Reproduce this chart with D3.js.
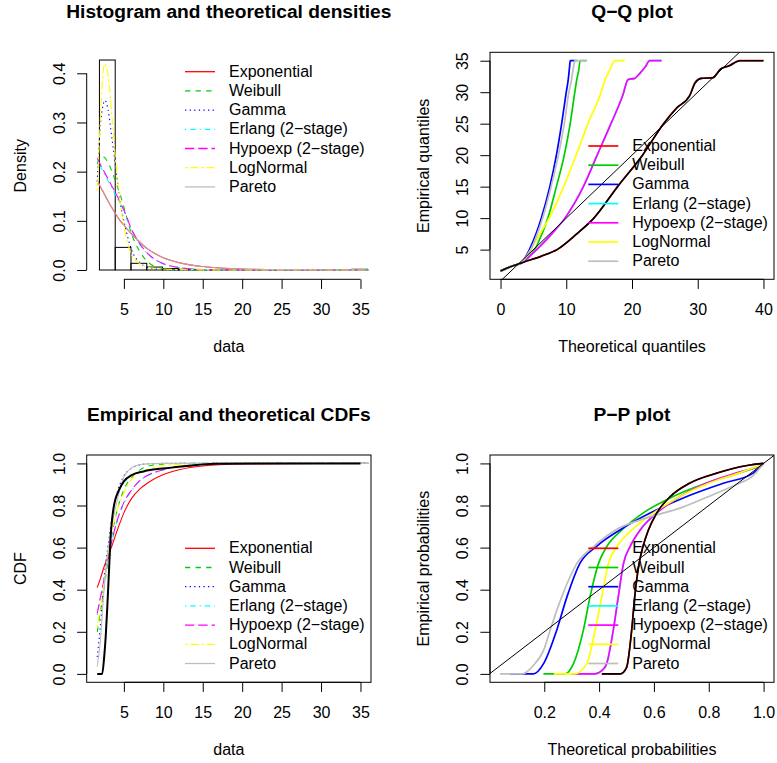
<!DOCTYPE html>
<html>
<head>
<meta charset="utf-8">
<script src="https://cdn.jsdelivr.net/npm/d3@7"></script>
<style>
  body { margin: 0; background: #fff; }
  text { font-family: "Liberation Sans", Arial, Helvetica, sans-serif; }
</style>
</head>
<body>
<div id="chart"></div>
<script>
// ---- legend entries (same for all four panels)
var distNames = ["Exponential", "Weibull", "Gamma", "Erlang (2\u2212stage)", "Hypoexp (2\u2212stage)", "LogNormal", "Pareto"];
var distColors = ["#FF0000", "#00CD00", "#0000FF", "#00FFFF", "#FF00FF", "#FFFF00", "#BEBEBE"];
var distDash = [null, "5.3,5.3", "1.3,3.3", "1.3,4,5.3,4", "9.3,4", "2.7,2.7,8,2.7", null];

// ---- histogram
var histBreaks = [-0.1, 1.9, 3.9, 5.9, 7.9, 9.9, 11.9, 13.9, 15.9, 17.9, 19.9, 21.9, 23.9, 25.9, 27.9, 29.9, 31.9, 33.9, 35.9];
var histDensity = [0, 0.427, 0.046, 0.0136, 0.006, 0.003, 0.0015, 0.001, 0.0005, 0.0003, 0.0003, 0.0002, 0.0002, 0.0002, 0.0003, 0.0008, 0.0005, 0.0015];

// ---- theoretical densities, read at densX
var densX      = [1.62, 2.0, 2.3, 2.6, 3.0, 3.5, 4.0, 4.5, 5.0, 6.0, 7.0, 8.0, 9.0, 10, 12, 15, 20, 25, 36];
var densExp    = [0.183, 0.170, 0.161, 0.152, 0.140, 0.126, 0.113, 0.101, 0.091, 0.073, 0.057, 0.043, 0.033, 0.025, 0.015, 0.007, 0.002, 0.0008, 0.0001];
var densWeib   = [0.215, 0.228, 0.230, 0.228, 0.218, 0.200, 0.178, 0.155, 0.128, 0.072, 0.038, 0.017, 0.007, 0.003, 0.0005, 0, 0, 0, 0];
var densGamma  = [0.180, 0.290, 0.330, 0.345, 0.325, 0.265, 0.205, 0.140, 0.100, 0.040, 0.015, 0.006, 0.002, 0.001, 0, 0, 0, 0, 0];
var densErlang = [0.222, 0.211, 0.202, 0.193, 0.181, 0.166, 0.151, 0.136, 0.119, 0.080, 0.052, 0.033, 0.020, 0.012, 0.005, 0.001, 0.0002, 0, 0];
var densHypo   = [0.227, 0.215, 0.206, 0.197, 0.185, 0.170, 0.155, 0.139, 0.122, 0.082, 0.054, 0.034, 0.021, 0.013, 0.005, 0.001, 0.0002, 0, 0];
var densLogn   = [0.160, 0.300, 0.390, 0.420, 0.395, 0.310, 0.215, 0.140, 0.090, 0.030, 0.013, 0.006, 0.003, 0.002, 0.0008, 0.0003, 0, 0, 0];
var densPareto = [0.183, 0.170, 0.161, 0.152, 0.140, 0.126, 0.113, 0.101, 0.091, 0.073, 0.057, 0.043, 0.033, 0.025, 0.015, 0.007, 0.002, 0.0008, 0.0001];

// ---- theoretical CDFs, read at cdfX
var cdfX      = [1.62, 2.0, 2.5, 3.0, 3.5, 4.0, 5.0, 6.0, 7.0, 8.0, 10, 12, 15, 20, 25, 36];
var cdfExp    = [0.41, 0.45, 0.51, 0.56, 0.61, 0.665, 0.765, 0.835, 0.878, 0.907, 0.947, 0.970, 0.988, 0.997, 0.999, 1];
var cdfWeib   = [0.20, 0.29, 0.41, 0.54, 0.665, 0.755, 0.875, 0.935, 0.968, 0.986, 0.997, 1, 1, 1, 1, 1];
var cdfGamma  = [0.08, 0.22, 0.46, 0.61, 0.745, 0.84, 0.94, 0.978, 0.993, 0.998, 1, 1, 1, 1, 1, 1];
var cdfErlang = [0.28, 0.355, 0.445, 0.545, 0.63, 0.705, 0.81, 0.872, 0.915, 0.941, 0.969, 0.985, 0.996, 0.999, 1, 1];
var cdfHypo   = [0.287, 0.36, 0.45, 0.55, 0.635, 0.71, 0.815, 0.875, 0.918, 0.943, 0.97, 0.985, 0.996, 0.999, 1, 1];
var cdfLogn   = [0.22, 0.31, 0.43, 0.575, 0.685, 0.76, 0.86, 0.925, 0.955, 0.972, 0.99, 0.995, 0.999, 1, 1, 1];
var cdfPareto = [0.035, 0.15, 0.41, 0.59, 0.71, 0.80, 0.935, 0.98, 0.994, 0.998, 1, 1, 1, 1, 1, 1];

// ---- empirical CDF
var ecdfX = [1.62, 2.25, 2.5, 2.7, 2.9, 3.1, 3.3, 3.7, 4.4, 5.0, 6.0, 7.5, 9.0, 11.0, 13.0, 16.5, 35];
var ecdfY = [0, 0, 0.08, 0.18, 0.32, 0.48, 0.64, 0.79, 0.875, 0.915, 0.945, 0.962, 0.972, 0.98, 0.988, 0.999, 1];

// ---- Q-Q points [theoretical, empirical]
var qqExp    = [[0, 1.62], [1.8, 2.4], [3.5, 3.0], [6.3, 4.0], [8.6, 5.0], [11.6, 7.5], [14.2, 10], [17.8, 15], [21.6, 20], [24.8, 25], [26.8, 27.5], [28.8, 29.5], [29.6, 31.5], [30.5, 32.2], [32.3, 32.3], [33.5, 33.7], [34.8, 34.2], [36.4, 35], [40, 35]];
var qqWeib   = [[0.1, 1.62], [1.8, 2.4], [3.4, 3.0], [4.4, 4.0], [5.2, 5.0], [6.3, 7.5], [7.2, 10], [8.5, 15], [9.7, 20], [10.6, 25], [11.3, 30], [11.6, 32], [11.9, 33.5], [12.1, 35], [13.1, 35]];
var qqGamma  = [[0, 1.62], [1.8, 2.4], [3.3, 3.0], [3.9, 4.0], [4.4, 5.0], [5.4, 7.5], [6.2, 10], [7.5, 15], [8.5, 20], [9.3, 25], [10.0, 30], [10.3, 32], [10.5, 34], [10.6, 35], [11.6, 35]];
var qqErlang = [[0.1, 1.62], [1.9, 2.4], [3.4, 3.0], [4.5, 4.0], [5.5, 5.0], [7.8, 7.5], [9.8, 10], [12.6, 15], [14.7, 20], [16.8, 25], [18.6, 29.5], [19.4, 32], [20.4, 32.2], [21.2, 33], [22.0, 34], [22.7, 35], [24.5, 35]];
var qqHypo   = [[0.1, 1.62], [1.9, 2.4], [3.4, 3.0], [4.5, 4.0], [5.5, 5.0], [7.8, 7.5], [9.8, 10], [12.6, 15], [14.7, 20], [16.8, 25], [18.6, 29.5], [19.4, 32], [20.4, 32.2], [21.2, 33], [22.0, 34], [22.7, 35], [24.5, 35]];
var qqLogn   = [[0, 1.62], [1.8, 2.4], [3.2, 3.0], [4.0, 4.0], [4.6, 5.0], [6.0, 7.5], [7.4, 10], [9.6, 15], [11.5, 20], [13.3, 25], [15.3, 30], [15.9, 32], [16.6, 33.5], [17.4, 35], [18.9, 35]];
var qqPareto = [[0.2, 1.62], [1.9, 2.4], [3.3, 3.0], [4.0, 4.0], [4.6, 5.0], [5.6, 7.5], [6.4, 10], [7.7, 15], [8.8, 20], [9.7, 25], [10.4, 30], [10.8, 32], [11.1, 34], [11.3, 35], [13.1, 35]];

// ---- P-P points [theoretical, empirical]
var ppExp    = [[0.41, 0], [0.477, 0.0], [0.50, 0.03], [0.519, 0.21], [0.53, 0.367], [0.546, 0.525], [0.56, 0.605], [0.58, 0.684], [0.61, 0.764], [0.66, 0.843], [0.73, 0.906], [0.83, 0.954], [0.94, 0.99], [1.0, 1.0]];
var ppWeib   = [[0.197, 0], [0.275, 0.0], [0.307, 0.05], [0.343, 0.21], [0.367, 0.367], [0.398, 0.525], [0.428, 0.605], [0.483, 0.684], [0.56, 0.764], [0.67, 0.843], [0.79, 0.906], [0.91, 0.954], [0.995, 0.99]];
var ppGamma  = [[0.075, 0], [0.16, 0.0], [0.198, 0.05], [0.246, 0.21], [0.283, 0.367], [0.33, 0.525], [0.39, 0.605], [0.476, 0.684], [0.586, 0.764], [0.72, 0.843], [0.853, 0.906], [0.962, 0.954], [1.0, 1.0]];
var ppErlang = [[0.30, 0], [0.385, 0.0], [0.41, 0.015], [0.428, 0.05], [0.452, 0.21], [0.47, 0.367], [0.489, 0.525], [0.513, 0.605], [0.55, 0.684], [0.61, 0.764], [0.695, 0.843], [0.79, 0.906], [0.90, 0.954], [0.986, 0.99], [1.0, 1.0]];
var ppHypo   = [[0.30, 0], [0.385, 0.0], [0.41, 0.015], [0.428, 0.05], [0.452, 0.21], [0.47, 0.367], [0.489, 0.525], [0.513, 0.605], [0.55, 0.684], [0.61, 0.764], [0.695, 0.843], [0.79, 0.906], [0.90, 0.954], [0.986, 0.99], [1.0, 1.0]];
var ppLogn   = [[0.235, 0], [0.31, 0.0], [0.355, 0.05], [0.386, 0.21], [0.41, 0.367], [0.434, 0.525], [0.465, 0.605], [0.52, 0.684], [0.598, 0.764], [0.695, 0.843], [0.80, 0.906], [0.91, 0.954], [0.986, 0.99]];
var ppPareto = [[0.038, 0], [0.12, 0.0], [0.16, 0.04], [0.2, 0.12], [0.222, 0.21], [0.264, 0.367], [0.319, 0.525], [0.38, 0.605], [0.46, 0.684], [0.57, 0.74], [0.70, 0.79], [0.80, 0.843], [0.90, 0.9], [0.96, 0.94], [1.0, 1.0]];

// ---- tick values
var dataTicks = [5, 10, 15, 20, 25, 30, 35];
var densTicks = [0, 0.1, 0.2, 0.3, 0.4];
var probTicks = [0, 0.2, 0.4, 0.6, 0.8, 1.0];
var qqXTicks = [0, 10, 20, 30, 40];
var qqYTicks = [5, 10, 15, 20, 25, 30, 35];
var ppXTicks = [0.2, 0.4, 0.6, 0.8, 1.0];

var W = 777, H = 763;
var svg = d3.select("#chart").append("svg").attr("width", W).attr("height", H);

function makePanel(id, box, xDom, yDom) {
	var g = svg.append("g");
	var x = d3.scaleLinear().domain(xDom).range([box.x0, box.x1]);
	var y = d3.scaleLinear().domain(yDom).range([box.y1, box.y0]);
	svg.append("clipPath").attr("id", id)
		.append("rect")
		.attr("x", box.x0).attr("y", box.y0)
		.attr("width", box.x1 - box.x0).attr("height", box.y1 - box.y0);
	var plot = g.append("g").attr("clip-path", "url(#" + id + ")");
	return {g: g, plot: plot, x: x, y: y, box: box};
}

function drawAxes(p, xTicks, yTicks, xFmt, yFmt) {
	var gx = p.g.append("g")
		.attr("transform", "translate(0," + p.box.y1 + ")")
		.call(d3.axisBottom(p.x).tickValues(xTicks).tickSize(9.6).tickFormat(xFmt));
	gx.attr("font-size", 16).attr("font-family", null);
	gx.select(".domain").remove();
	gx.append("line")
		.attr("x1", p.x(xTicks[0])).attr("x2", p.x(xTicks[xTicks.length - 1]))
		.attr("stroke", "#000");
	gx.selectAll(".tick text").attr("y", 35.5).attr("dy", null).attr("fill", "#000");
	gx.selectAll(".tick line").attr("stroke", "#000");

	var gy = p.g.append("g")
		.attr("transform", "translate(" + p.box.x0 + ",0)")
		.call(d3.axisLeft(p.y).tickValues(yTicks).tickSize(9.6).tickFormat(yFmt));
	gy.attr("font-size", 16).attr("font-family", null);
	gy.select(".domain").remove();
	gy.append("line")
		.attr("y1", p.y(yTicks[0])).attr("y2", p.y(yTicks[yTicks.length - 1]))
		.attr("stroke", "#000");
	gy.selectAll(".tick text")
		.attr("transform", "rotate(-90)")
		.attr("x", 0).attr("y", -21.7).attr("dy", null)
		.attr("text-anchor", "middle").attr("fill", "#000");
	gy.selectAll(".tick line").attr("stroke", "#000");
}

function drawLabels(p, title, xlab, ylab) {
	var cx = (p.box.x0 + p.box.x1) / 2, cy = (p.box.y0 + p.box.y1) / 2;
	p.g.append("text").attr("x", cx).attr("y", p.box.y0 - 34)
		.attr("text-anchor", "middle").attr("font-size", 19.2).attr("font-weight", "bold")
		.text(title);
	p.g.append("text").attr("x", cx).attr("y", p.box.y1 + 72.7)
		.attr("text-anchor", "middle").attr("font-size", 16).text(xlab);
	p.g.append("text")
		.attr("transform", "translate(" + (p.box.x0 - 61) + "," + cy + ") rotate(-90)")
		.attr("text-anchor", "middle").attr("font-size", 16).text(ylab);
}

function drawBox(p) {
	p.g.append("rect")
		.attr("x", p.box.x0).attr("y", p.box.y0)
		.attr("width", p.box.x1 - p.box.x0).attr("height", p.box.y1 - p.box.y0)
		.attr("fill", "none").attr("stroke", "#000");
}

function drawLegend(p, top, lineW, dashed) {
	var x0 = p.box.x0 + 98.3;
	distNames.forEach(function(name, i) {
		var yy = top + i * 19.2;
		p.g.append("line")
			.attr("x1", x0).attr("x2", x0 + 30).attr("y1", yy).attr("y2", yy)
			.attr("stroke", distColors[i]).attr("stroke-width", lineW)
			.attr("stroke-dasharray", dashed ? distDash[i] : null);
		p.g.append("text").attr("x", x0 + 44).attr("y", yy + 5)
			.attr("font-size", 16).text(name);
	});
}

function curvePath(p, pts, color, width, dash, opacity) {
	var line = d3.line()
		.x(function(d) { return p.x(d[0]); })
		.y(function(d) { return p.y(d[1]); })
		.curve(d3.curveMonotoneX);
	p.plot.append("path")
		.attr("d", line(pts))
		.attr("fill", "none")
		.attr("stroke", color)
		.attr("stroke-width", width)
		.attr("stroke-dasharray", dash)
		.attr("stroke-opacity", opacity == null ? 1 : opacity);
}

function zipXY(xs, ys) {
	return xs.map(function(v, i) { return [v, ys[i]]; });
}

var fmt1 = d3.format(".1f");
var fmt0 = d3.format("d");

// ---------- panel 1: histogram and densities
var p1 = makePanel("clip1", {x0: 86.7, x1: 371, y0: 52.3, y1: 279.3}, [0.285, 36.335], [-0.0189, 0.4427]);
var bins = histDensity.map(function(d, i) { return {a: histBreaks[i], b: histBreaks[i + 1], d: d}; });
p1.plot.selectAll("rect.bar").data(bins).enter().append("rect")
	.attr("class", "bar")
	.attr("x", function(d) { return p1.x(d.a); })
	.attr("width", function(d) { return p1.x(d.b) - p1.x(d.a); })
	.attr("y", function(d) { return p1.y(d.d); })
	.attr("height", function(d) { return p1.y(0) - p1.y(d.d); })
	.attr("fill", "none").attr("stroke", "#000");
var densSeries = [densExp, densWeib, densGamma, densErlang, densHypo, densLogn, densPareto];
densSeries.forEach(function(s, i) {
	// Pareto sits right on top of the exponential curve, giving the rosy tint
	curvePath(p1, zipXY(densX, s), distColors[i], 1.1, distDash[i], i === 6 ? 0.8 : 1);
});
drawAxes(p1, dataTicks, densTicks, fmt0, fmt1);
drawLegend(p1, 71.7, 1.3, true);
drawLabels(p1, "Histogram and theoretical densities", "data", "Density");

// ---------- panel 2: Q-Q plot
var p2 = makePanel("clip2", {x0: 490, x1: 774, y0: 52.3, y1: 279.3}, [-1.6, 41.6], [0.285, 36.335]);
var qqSeries = [qqExp, qqWeib, qqGamma, qqErlang, qqHypo, qqLogn, qqPareto];
qqSeries.forEach(function(s, i) {
	curvePath(p2, s, distColors[i], 1.7, null, 1);
});
curvePath(p2, qqExp, "#000", 1.6, null, 1);
p2.plot.append("line")
	.attr("x1", p2.x(-2)).attr("y1", p2.y(-2)).attr("x2", p2.x(45)).attr("y2", p2.y(45))
	.attr("stroke", "#000");
drawBox(p2);
drawAxes(p2, qqXTicks, qqYTicks, fmt0, fmt0);
drawLegend(p2, 146, 1.7, false);
drawLabels(p2, "Q\u2212Q plot", "Theoretical quantiles", "Empirical quantiles");

// ---------- panel 3: CDFs
var p3 = makePanel("clip3", {x0: 86.7, x1: 371, y0: 455, y1: 682.3}, [0.285, 36.335], [-0.04, 1.04]);
var cdfSeries = [cdfExp, cdfWeib, cdfGamma, cdfErlang, cdfHypo, cdfLogn, cdfPareto];
cdfSeries.forEach(function(s, i) {
	curvePath(p3, zipXY(cdfX, s), distColors[i], 1.1, distDash[i], 1);
});
curvePath(p3, zipXY(ecdfX, ecdfY), "#000", 2, null, 1);
drawBox(p3);
drawAxes(p3, dataTicks, probTicks, fmt0, fmt1);
drawLegend(p3, 548.3, 1.3, true);
drawLabels(p3, "Empirical and theoretical CDFs", "data", "CDF");

// ---------- panel 4: P-P plot
var p4 = makePanel("clip4", {x0: 490, x1: 774, y0: 455, y1: 682.3}, [0.002, 1.038], [-0.04, 1.04]);
var ppSeries = [ppExp, ppWeib, ppGamma, ppErlang, ppHypo, ppLogn, ppPareto];
ppSeries.forEach(function(s, i) {
	curvePath(p4, s, distColors[i], 1.7, null, 1);
});
curvePath(p4, ppExp, "#000", 1.6, null, 1);
p4.plot.append("line")
	.attr("x1", p4.x(-1)).attr("y1", p4.y(-1)).attr("x2", p4.x(2)).attr("y2", p4.y(2))
	.attr("stroke", "#000");
drawBox(p4);
drawAxes(p4, ppXTicks, probTicks, fmt1, fmt1);
drawLegend(p4, 548.3, 1.7, false);
drawLabels(p4, "P\u2212P plot", "Theoretical probabilities", "Empirical probabilities");
</script>
</body>
</html>
